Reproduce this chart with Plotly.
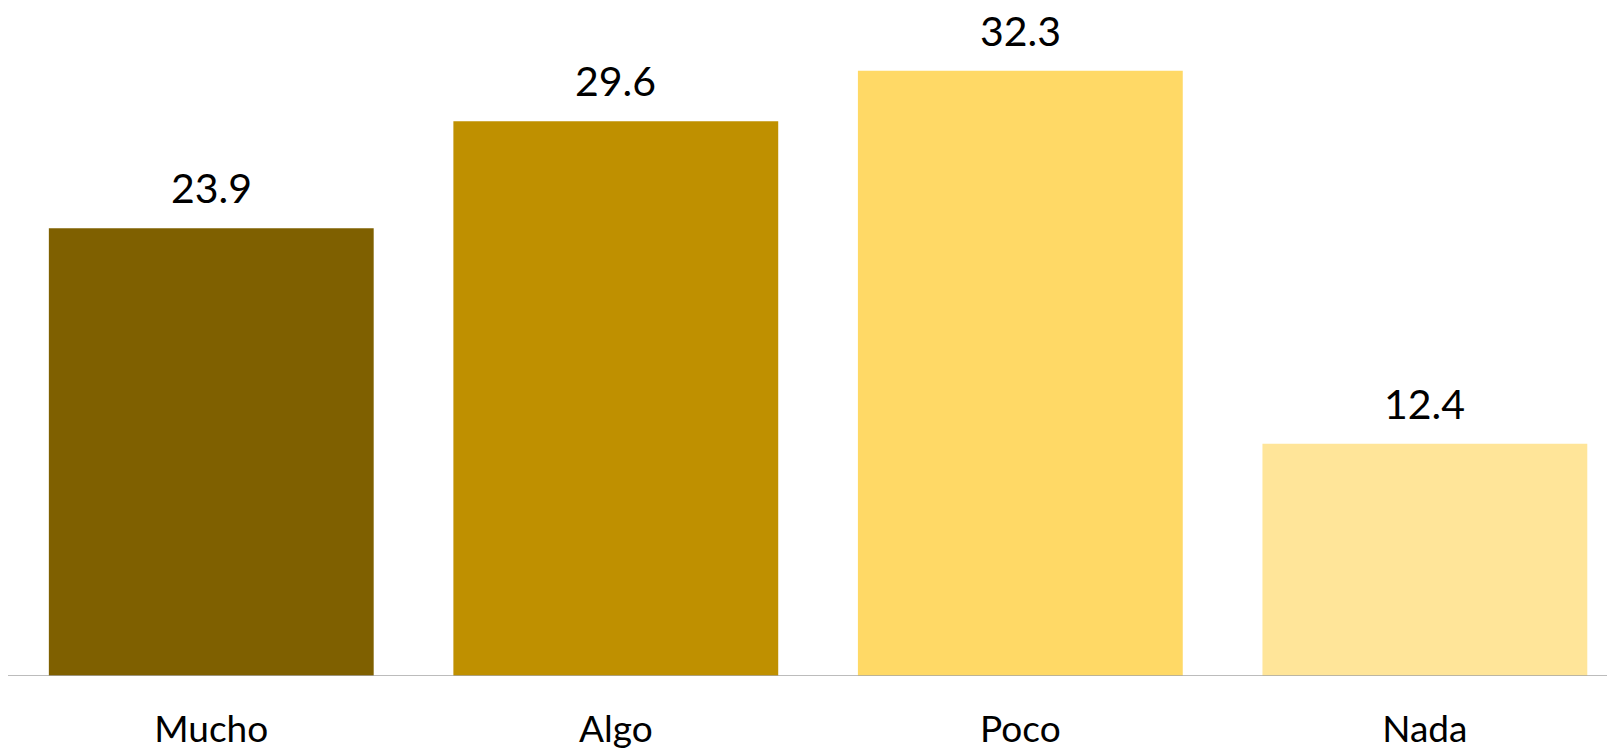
import plotly.graph_objects as go

categories = ["Mucho", "Algo", "Poco", "Nada"]
values = [23.9, 29.6, 32.3, 12.4]
colors = ["#7F6000", "#BF9000", "#FFD966", "#FFE599"]
labels = ["23.9", "29.6", "32.3", "12.4"]

xpos = list(range(len(categories)))

fig = go.Figure()
fig.add_trace(go.Bar(
    x=xpos, y=values, marker=dict(color=colors, line=dict(width=0)),
    width=0.803, hoverinfo="skip",
))

for xi, v, t in zip(xpos, values, labels):
    fig.add_annotation(x=xi, y=v, text=t, showarrow=False, yanchor="bottom",
                       yshift=14, font=dict(family="Lato", size=41, color="#000000"))

fig.update_layout(
    width=1607, height=743,
    margin=dict(l=1, r=0, t=0, b=74.5),
    paper_bgcolor="white", plot_bgcolor="white",
    showlegend=False,
    font=dict(family="Lato", color="#000000"),
    xaxis=dict(
        tickmode="array", tickvals=xpos, ticktext=categories,
        range=[-0.5, 3.47], showgrid=False, zeroline=False,
        showline=False, ticks="", tickfont=dict(family="Lato", size=37, color="#000000"),
        ticklabelstandoff=28,
    ),
    yaxis=dict(range=[0, 35.65], visible=False, showgrid=False, zeroline=False),
    shapes=[dict(type="line", xref="paper", yref="y", x0=-0.001, x1=1.0, y0=0, y1=0,
                 line=dict(color="#A6A6A6", width=1.5), layer="above")],
)

fig.write_html("out.html")
